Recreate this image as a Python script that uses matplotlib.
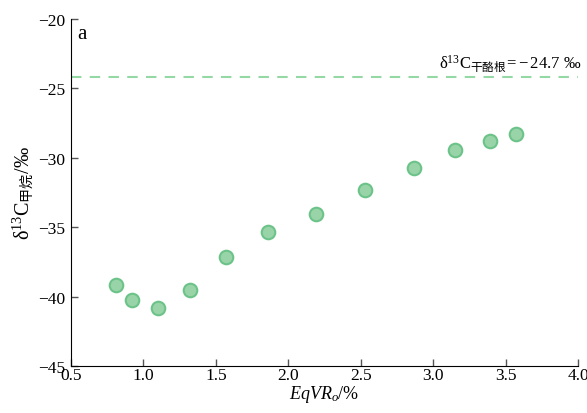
import matplotlib
matplotlib.use("Agg")
import matplotlib.pyplot as plt

# EqVRo (%) and methane d13C (permil)
eqvro = [0.81, 0.92, 1.10, 1.32, 1.57, 1.86, 2.19, 2.53, 2.87, 3.15, 3.39, 3.57]
d13c_methane = [-39.13, -40.22, -40.84, -39.52, -37.16, -35.34, -34.02,
                -32.31, -30.72, -29.47, -28.77, -28.27]
kerogen_line = -24.2
kerogen_label = r"$\mathrm{δ^{13}C}_{\mathsf{干酪根}}\mathrm{\!=\!−24.7\ ‰}$"

xticks = [0.5, 1.0, 1.5, 2.0, 2.5, 3.0, 3.5, 4.0]
yticks = [-45, -40, -35, -30, -25, -20]

plt.rcParams["font.family"] = ["Liberation Serif", "Noto Sans CJK SC"]
plt.rcParams["mathtext.fontset"] = "custom"
plt.rcParams["mathtext.rm"] = "Liberation Serif"
plt.rcParams["mathtext.it"] = "Liberation Serif:italic"
plt.rcParams["mathtext.sf"] = "Noto Sans CJK SC"

fig = plt.figure(figsize=(5.87, 4.14), dpi=100)
ax = fig.add_axes([0.121, 0.1135, 0.864, 0.838])

ax.scatter(eqvro, d13c_methane, s=95, facecolor="#98d4a7", edgecolor="#6cc389",
           linewidths=1.5, zorder=3)
ax.axhline(kerogen_line, color="#94d9a4", lw=1.5, dashes=(5, 4))
ax.text(4.02, -23.45, kerogen_label, ha="right", va="baseline", fontsize=12)
ax.text(0.012, 0.985, "a", transform=ax.transAxes, ha="left", va="top", fontsize=15)

ax.set_xlim(0.5, 4.0)
ax.set_ylim(-45, -20)
ax.set_xticks(xticks)
ax.set_xticklabels([f"{t:.1f}" for t in xticks])
ax.set_yticks(yticks)
ax.set_yticklabels([f"−{abs(t)}" for t in yticks])
ax.tick_params(direction="in", length=5, width=1, labelsize=12.5,
               color="#555555")
ax.tick_params(axis="x", pad=1)
ax.tick_params(axis="y", pad=4)
ax.spines["top"].set_visible(False)
ax.spines["right"].set_visible(False)

ax.set_xlabel(r"$\mathit{EqVR}_{\mathit{o}}\mathrm{/\%}$", fontsize=13, labelpad=0)
ax.set_ylabel(r"$\mathrm{δ^{13}C}_{\mathsf{甲烷}}\mathrm{/‰}$", fontsize=14.5, labelpad=2)

fig.savefig("out.png", dpi=100)
